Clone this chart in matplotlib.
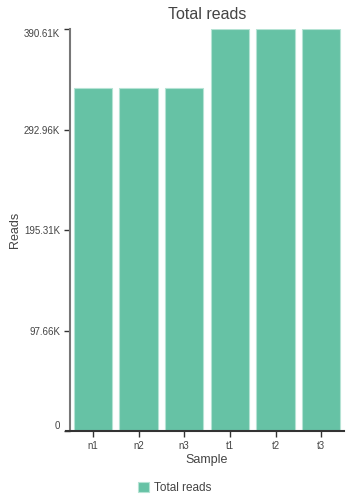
import matplotlib
matplotlib.use("Agg")
import matplotlib.pyplot as plt

plt.rcParams['font.family'] = ['Liberation Sans', 'DejaVu Sans']

samples = ["n1", "n2", "n3", "t1", "t2", "t3"]
reads = [333000, 333000, 333000, 390610, 390610, 390610]
yticks = [0, 97656, 195312, 292968, 390625]
ytick_labels = ["0", "97.66K", "195.31K", "292.96K", "390.61K"]
ymax = 390625

fig = plt.figure(figsize=(3.49, 4.98), dpi=100)
ax = fig.add_axes([70 / 349, 1 - 431 / 498, 274 / 349, 402 / 498])

ax.bar(range(len(samples)), reads, width=0.84, color="#66c2a5",
       edgecolor="#b5e3d4", linewidth=0.8, label="Total reads")
ax.set_xlim(-0.5, len(samples) - 0.5)
ax.set_ylim(0, ymax)
ax.set_xticks(range(len(samples)))
ax.set_xticklabels(samples)
ax.set_yticks(yticks)
ax.set_yticklabels(ytick_labels)
# end labels sit inside the axis range, like the original
ylabels = ax.get_yticklabels()
ylabels[0].set_va("bottom")
ylabels[-1].set_va("top")
ax.tick_params(axis="both", labelsize=7, colors="#333", labelcolor="#444", length=4, width=1)
ax.tick_params(axis="x", pad=3)
ax.tick_params(axis="y", pad=3)

for s in ("top", "right"):
    ax.spines[s].set_visible(False)
ax.spines["left"].set_color("#777")
ax.spines["left"].set_linewidth(1.5)
ax.spines["bottom"].set_color("#333")
ax.spines["bottom"].set_linewidth(1.5)
ax.spines["bottom"].set_bounds(-0.58, len(samples) - 0.5)

ax.set_xlabel("Sample", fontsize=9, color="#444", labelpad=2)
ax.set_ylabel("Reads", fontsize=9, color="#444")
ax.yaxis.set_label_coords(-0.18, 0.5)
ax.set_title("Total reads", fontsize=11.5, color="#444", pad=7)

fig.legend(loc="center", bbox_to_anchor=(0.5, 1 - 488 / 498), frameon=False,
           fontsize=8.5, labelcolor="#444", handlelength=1.0, handleheight=1.0,
           handletextpad=0.4)

fig.savefig("out.png", dpi=100)
